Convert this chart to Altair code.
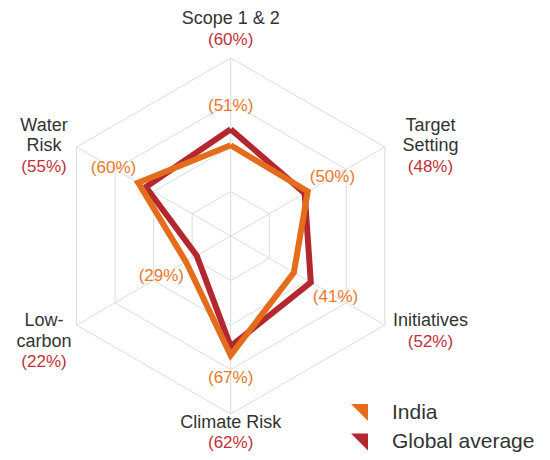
import altair as alt
import pandas as pd

categories = ["Scope 1 & 2", "Target Setting", "Initiatives", "Climate Risk", "Low-carbon", "Water Risk"]
axis_labels = ["Scope 1 & 2", "Target\nSetting", "Initiatives", "Climate Risk", "Low-\ncarbon", "Water\nRisk"]
india = [51, 50, 41, 67, 29, 60]
global_avg = [60, 48, 52, 62, 22, 55]
series_names = ["India", "Global average"]
ring_levels = [25, 50, 75, 100]

ORANGE = "#E36C1D"
RED = "#B3282F"
ORANGE_TXT = "#E8792A"
RED_TXT = "#C0303A"
GREY_TXT = "#333333"
GRID = "#dcdcdc"
FONT = "Liberation Sans"
TRI = "M-1,-1L1,-1L1,1Z"
LINE_H = 20.5          # px between text lines
PX_PER_UNIT = 1.78     # px per data unit (radius 100 -> 178 px)
W, H = 534, 444

n = len(categories)

poly_rows = []
for name, vals in zip(series_names, [india, global_avg]):
    for k in range(n + 1):
        i = k % n
        poly_rows.append({"series": name, "order": k, "idx": i, "value": vals[i]})
poly_df = pd.DataFrame(poly_rows)

ring_df = pd.DataFrame([{"ring": r, "order": k, "idx": k % n, "value": r}
                        for r in ring_levels for k in range(n + 1)])
spoke_df = pd.DataFrame({"idx": list(range(n)), "value": [max(ring_levels)] * n})

lab_df = pd.DataFrame({
    "idx": list(range(n)),
    "name_txt": axis_labels,
    "nlines": [s.count("\n") + 1 for s in axis_labels],
    "pct_txt": [f"({v}%)" for v in global_avg],
    "india_txt": [f"({v}%)" for v in india],
    "rmax": [max(a, b) for a, b in zip(india, global_avg)],
})

x0, y1 = -125.1, 128.1
xs = alt.Scale(domain=[x0, x0 + W / PX_PER_UNIT], nice=False, zero=False)
ys = alt.Scale(domain=[y1 - H / PX_PER_UNIT, y1], nice=False, zero=False)

polar = dict(x="datum.value*sin(datum.idx*PI/3)",
             y="datum.value*cos(datum.idx*PI/3)")

X = alt.X("x:Q", scale=xs, axis=None)
Y = alt.Y("y:Q", scale=ys, axis=None)

rings = alt.Chart(ring_df).transform_calculate(**polar).mark_line(
    color=GRID, strokeWidth=1
).encode(x=X, y=Y, detail="ring:N", order="order:Q")

spokes = alt.Chart(spoke_df).transform_calculate(
    x0="0", y0="0", **polar
).mark_rule(color=GRID, strokeWidth=1).encode(
    x=alt.X("x0:Q", scale=xs, axis=None), y=alt.Y("y0:Q", scale=ys, axis=None),
    x2="x:Q", y2="y:Q")

def series_line(name, col):
    return alt.Chart(poly_df).transform_filter(
        alt.datum.series == name
    ).transform_calculate(**polar).mark_line(
        strokeWidth=6, strokeJoin="miter", strokeMiterLimit=10, color=col
    ).encode(x=X, y=Y, order="order:Q")

color_scale = alt.Scale(domain=series_names, range=[ORANGE, RED])
legend_pts = alt.Chart(pd.DataFrame({"series": series_names})).mark_point(
    filled=True, shape=TRI, size=289, opacity=1
).encode(
    x=alt.value(-500), y=alt.value(-500),
    fill=alt.Fill("series:N", scale=color_scale, legend=alt.Legend(
        orient="none", legendX=341, legendY=394, title=None,
        symbolType=TRI, symbolSize=289, symbolStrokeWidth=0, symbolOpacity=1,
        labelFontSize=21, labelFont=FONT, labelColor=GREY_TXT,
        labelOffset=22, rowPadding=7.5, padding=0, labelLimit=300)))

lh = LINE_H / PX_PER_UNIT
# the label line nearest the chart sits at "near"; upper labels grow upward, lower ones downward
label_pos = dict(
    c="cos(datum.idx*PI/3)",
    s="sin(datum.idx*PI/3)",
    lx="datum.s*(datum.s>0.1 ? 129.6 : 121.1)",
    near="datum.c>0.9 ? 110.4 : (datum.c>0 ? 39 : (datum.c<-0.9 ? -105 : -47.8))",
    ly1=f"datum.c>0 ? datum.near + datum.nlines*{lh} : datum.near",
    lyp=f"datum.c>0 ? datum.near : datum.near - datum.nlines*{lh}",
)
LX = alt.X("lx:Q", scale=xs, axis=None)

names = alt.Chart(lab_df).transform_calculate(**label_pos).mark_text(
    lineBreak="\n", align="center", baseline="middle", fontSize=18,
    lineHeight=LINE_H, font=FONT, color=GREY_TXT
).encode(x=LX, y=alt.Y("ly1:Q", scale=ys, axis=None), text="name_txt:N")

pcts = alt.Chart(lab_df).transform_calculate(**label_pos).mark_text(
    align="center", baseline="middle", fontSize=17, font=FONT, color=RED_TXT
).encode(x=LX, y=alt.Y("lyp:Q", scale=ys, axis=None), text="pct_txt:N")

india_lbl = alt.Chart(lab_df).transform_calculate(
    gap="abs(cos(datum.idx*PI/3))>0.9 ? 13 : 16",
    ix="(datum.rmax+datum.gap)*sin(datum.idx*PI/3)",
    iy="(datum.rmax+datum.gap)*cos(datum.idx*PI/3)",
).mark_text(
    align="center", baseline="middle", fontSize=17, font=FONT, color=ORANGE_TXT
).encode(x=alt.X("ix:Q", scale=xs, axis=None), y=alt.Y("iy:Q", scale=ys, axis=None),
         text="india_txt:N")

chart = alt.layer(
    rings, spokes, series_line("Global average", RED), series_line("India", ORANGE),
    legend_pts, names, pcts, india_lbl
).properties(
    width=W, height=H, padding=0,
    autosize=alt.AutoSizeParams(type="none")
).configure_view(stroke=None)

chart.save("out.html", embed_options={"renderer": "svg", "actions": False})
